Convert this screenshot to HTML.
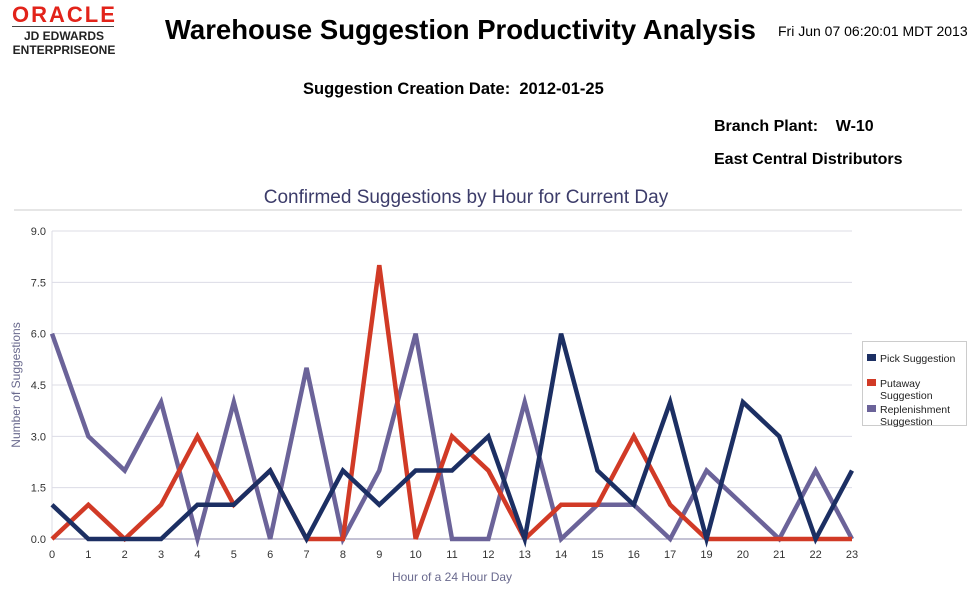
<!DOCTYPE html>
<html><head><meta charset="utf-8"><style>
body{margin:0;width:976px;height:589px;background:#fff;font-family:"Liberation Sans",sans-serif;position:relative;overflow:hidden}
.a{position:absolute;white-space:nowrap}
</style></head><body>
<div class="a" style="left:12px;top:2px;color:#e2231a;font-size:22px;font-weight:bold;letter-spacing:2px">ORACLE</div>
<div class="a" style="left:12px;top:26px;width:102px;height:1px;background:#444"></div>
<div class="a" style="left:12px;top:29px;width:104px;text-align:center;font-size:12px;font-weight:bold;line-height:14px;color:#222">JD EDWARDS<br>ENTERPRISEONE</div>
<div class="a" style="left:165px;top:14px;font-size:27.5px;font-weight:bold">Warehouse Suggestion Productivity Analysis</div>
<div class="a" style="left:778px;top:23px;font-size:14px">Fri Jun 07 06:20:01 MDT 2013</div>
<div class="a" style="left:303px;top:80px;font-size:16.5px;font-weight:bold">Suggestion Creation Date:&nbsp; 2012-01-25</div>
<div class="a" style="left:714px;top:118px;font-size:16px;font-weight:bold">Branch Plant:&nbsp;&nbsp;&nbsp; W-10</div>
<div class="a" style="left:714px;top:151px;font-size:16px;font-weight:bold">East Central Distributors</div>
<svg id="c" class="a" style="left:0;top:0" width="976" height="589"></svg>
<script>
const categories=["0","1","2","3","4","5","6","7","8","9","10","11","12","13","14","15","16","17","19","20","21","22","23"];
const pick=[1,0,0,0,1,1,2,0,2,1,2,2,3,0,6,2,1,4,0,4,3,0,2];
const putaway=[0,1,0,1,3,1,2,0,0,8,0,3,2,0,1,1,3,1,0,0,0,0,0];
const replen=[6,3,2,4,0,4,0,5,0,2,6,0,0,4,0,1,1,0,2,1,0,2,0];
const yTicks=[0,1.5,3,4.5,6,7.5,9];
const NS="http://www.w3.org/2000/svg",svg=document.getElementById('c');
const X0=52,X1=852,Y0=539,Y1=231,YMAX=9;
const xs=i=>X0+i*(X1-X0)/(categories.length-1);
const ys=v=>Y0-v*(Y0-Y1)/YMAX;
function mk(t,at,txt){const e=document.createElementNS(NS,t);for(const k in at)e.setAttribute(k,at[k]);if(txt!=null)e.textContent=txt;svg.appendChild(e);return e;}
let e;
e=mk('text',{x:466,y:203,'text-anchor':'middle','font-size':19,fill:'#3c3c6a'},'Confirmed Suggestions by Hour for Current Day');


e=mk('line',{x1:14,x2:962,y1:210,y2:210,stroke:'#ccc'});


yTicks.forEach(t=>{
 e=mk('line',{x1:X0,x2:X1,y1:ys(t),y2:ys(t),stroke:t===0?'#8a86aa':'#dcdce6','stroke-width':1});
 
 
 e=mk('text',{x:X0-6,y:ys(t)+4,'text-anchor':'end','font-size':11,fill:'#333'},t.toFixed(1));
 
 
});
e=mk('line',{x1:X0,x2:X0,y1:Y1,y2:Y0,stroke:'#dcdce6'});


categories.forEach((c,i)=>{
 e=mk('text',{x:xs(i),y:Y0+19,'text-anchor':'middle','font-size':11,fill:'#333'},c);
 
 
});
e=mk('text',{x:452,y:581,'text-anchor':'middle','font-size':12,fill:'#6a6a8e'},'Hour of a 24 Hour Day');


e=mk('text',{x:20,y:385,'text-anchor':'middle','font-size':12,fill:'#6a6a8e',transform:'rotate(-90 20 385)'},'Number of Suggestions');


const series=[[replen,'#6b6399','replenishment-line'],[putaway,'#d13a26','putaway-line'],[pick,'#1c2f63','pick-line']];
series.forEach(([d,col,n])=>{
 e=mk('polyline',{points:d.map((v,i)=>xs(i)+','+ys(v)).join(' '),fill:'none',stroke:col,'stroke-width':4.5,'stroke-linejoin':'miter'});
 
 
});
e=mk('rect',{x:862.5,y:341.5,width:104,height:84,fill:'#fff',stroke:'#ccc'});


const leg=[['#1c2f63',['Pick Suggestion'],358],['#d13a26',['Putaway','Suggestion'],383],['#6b6399',['Replenishment','Suggestion'],409]];
leg.forEach(([col,lines,y])=>{
 e=mk('rect',{x:867,y:y-4,width:9,height:7,fill:col});
 
 
 lines.forEach((l,k)=>{
  e=mk('text',{x:880,y:y+4+k*12,'font-size':10.5,fill:'#222'},l);
  
  
 });
});
</script>
</body></html>
